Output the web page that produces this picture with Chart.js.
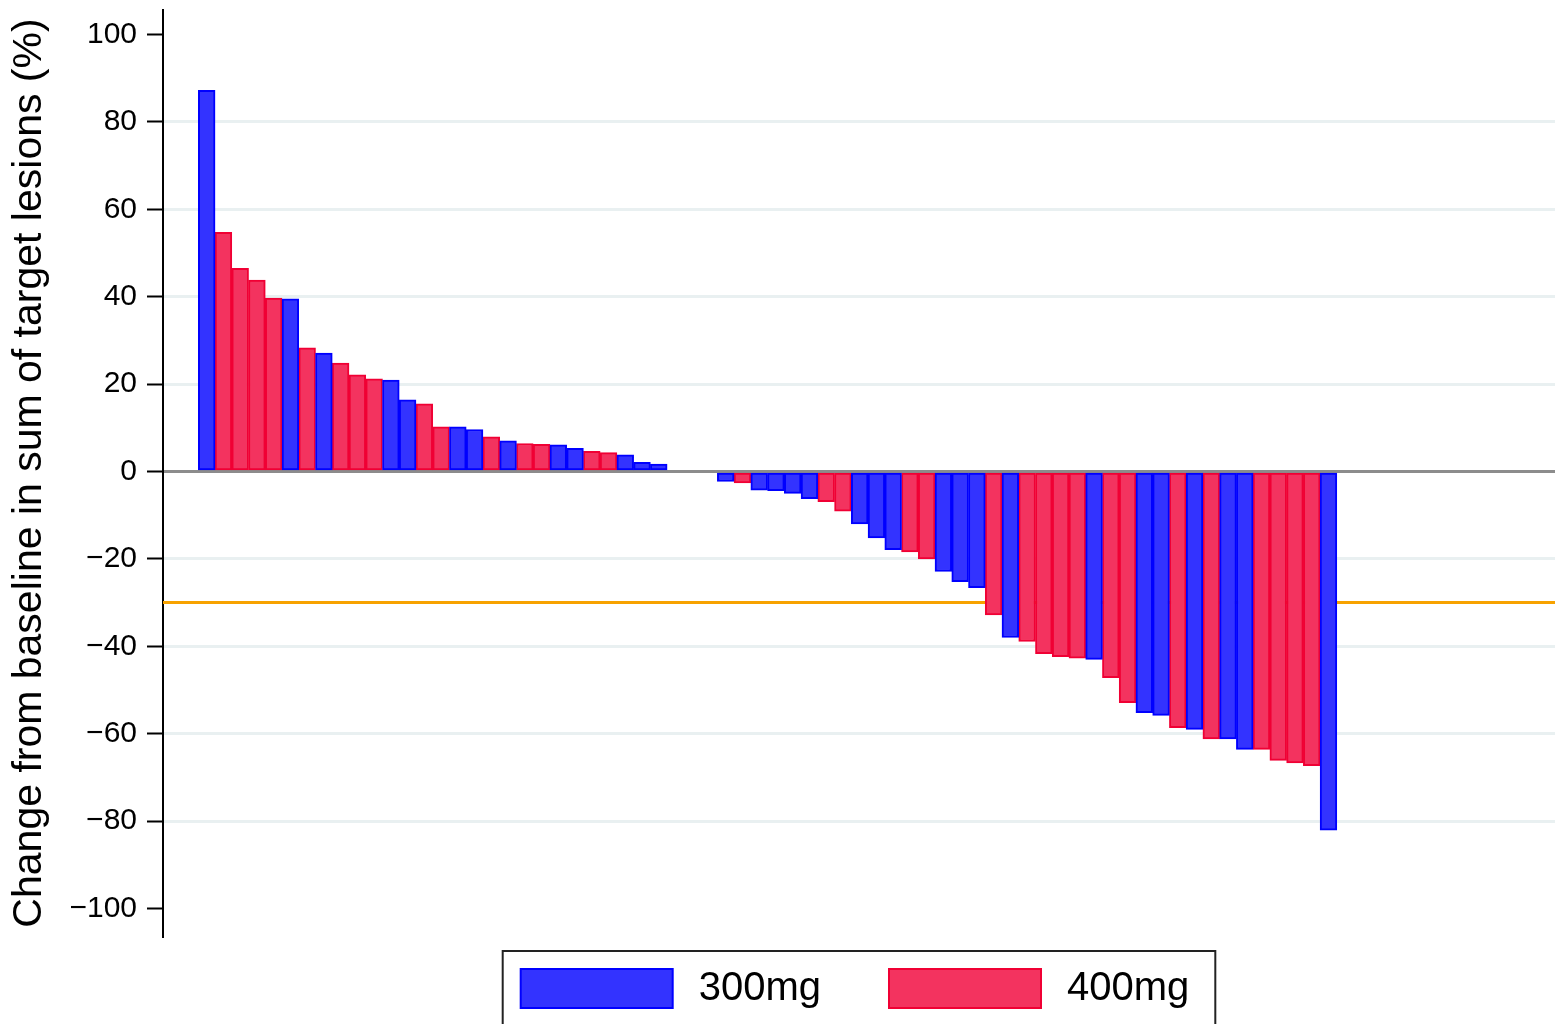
<!DOCTYPE html>
<html>
<head>
<meta charset="utf-8">
<title>Waterfall - change in target lesions</title>
<script src="https://cdn.jsdelivr.net/npm/chart.js@4.4.1/dist/chart.umd.min.js"></script>
<style>
  html, body { margin: 0; padding: 0; background: #fff; }
  #wrap { width: 1567px; height: 1024px; }
</style>
</head>
<body>
<div id="wrap"><canvas id="waterfall"></canvas></div>
<script>
// best % change per patient, already sorted (3 patients without a value)
var change = [
  87.2, 54.7, 46.5, 43.8, 39.7, 39.5, 28.3, 27.1, 24.8, 22.1,
  21.2, 20.9, 16.4, 15.5, 10.2, 10.2, 9.6, 7.9, 7.0, 6.4,
  6.2, 6.1, 5.3, 4.6, 4.3, 3.8, 2.1, 1.7, null, null,
  null, -2.3, -2.6, -4.3, -4.4, -5.0, -6.2, -6.9, -9.1, -12.0,
  -15.2, -17.9, -18.4, -20.0, -22.9, -25.2, -26.6, -32.8, -38.0, -38.9,
  -41.7, -42.4, -42.7, -43.0, -47.2, -52.9, -55.2, -55.8, -58.6, -59.0,
  -61.2, -61.2, -63.6, -63.6, -66.1, -66.7, -67.3, -82.1
];
var dose = [
  300, 400, 400, 400, 400, 300, 400, 300, 400, 400,
  400, 300, 300, 400, 400, 300, 300, 400, 300, 400,
  400, 300, 300, 400, 400, 300, 300, 300, null, null,
  null, 300, 400, 300, 300, 300, 300, 400, 400, 300,
  300, 300, 400, 400, 300, 300, 300, 400, 300, 400,
  400, 400, 400, 300, 400, 400, 300, 300, 400, 300,
  400, 300, 300, 400, 400, 400, 400, 300
];
var doseGroups = [300, 400];
var yTicks = [-100, -80, -60, -40, -20, 0, 20, 40, 60, 80, 100];
var partialResponse = -30;

var groupStyle = {
  300: { fill: '#3333ff', line: '#0000ff' },
  400: { fill: '#f3335f', line: '#f00034' }
};

var datasets = doseGroups.map(function (g) {
  var pts = [];
  change.forEach(function (v, i) {
    if (v !== null && dose[i] === g) pts.push({ x: i + 1, y: v });
  });
  return {
    label: g + 'mg',
    data: pts,
    backgroundColor: groupStyle[g].fill,
    borderColor: groupStyle[g].line,
    borderWidth: 2,
    borderSkipped: false,
    grouped: false,
    barPercentage: 1,
    categoryPercentage: 1
  };
});

// orange -30% line, under the bars
var refLine = {
  id: 'refLine',
  beforeDatasetsDraw: function (chart) {
    var ctx = chart.ctx, a = chart.chartArea;
    var y = chart.scales.y.getPixelForValue(partialResponse);
    ctx.save();
    ctx.strokeStyle = '#f7a200';
    ctx.lineWidth = 3;
    ctx.beginPath();
    ctx.moveTo(a.left, y);
    ctx.lineTo(a.right, y);
    ctx.stroke();
    ctx.restore();
  }
};

// boxed legend under the plot
var boxLegend = {
  id: 'boxLegend',
  afterDraw: function (chart) {
    var ctx = chart.ctx, a = chart.chartArea;
    var boxW = 154, boxH = 41, gap = 25, spacing = 67;
    ctx.save();
    ctx.font = '40px "Liberation Sans", Arial, sans-serif';
    var items = chart.data.datasets.map(function (ds) {
      return { ds: ds, w: boxW + gap + ctx.measureText(ds.label).width };
    });
    var total = spacing * (items.length - 1);
    items.forEach(function (it) { total += it.w; });
    var frameW = total + 17 + 26;
    var left = (a.left + a.right) / 2 - frameW / 2;
    var top = a.bottom + 15;
    ctx.strokeStyle = '#222';
    ctx.lineWidth = 2;
    ctx.strokeRect(left, top, frameW, 120);

    var x = left + 17, by = top + 17;
    items.forEach(function (it) {
      ctx.fillStyle = it.ds.borderColor;
      ctx.fillRect(x, by, boxW, boxH);
      ctx.fillStyle = it.ds.backgroundColor;
      ctx.fillRect(x + 2, by + 2, boxW - 4, boxH - 4);
      ctx.fillStyle = '#000';
      ctx.textBaseline = 'middle';
      ctx.textAlign = 'left';
      ctx.fillText(it.ds.label, x + boxW + gap, by + boxH / 2);
      x += it.w + spacing;
    });
    ctx.restore();
  }
};

new Chart(document.getElementById('waterfall').getContext('2d'), {
  type: 'bar',
  data: { datasets: datasets },
  plugins: [refLine, boxLegend],
  options: {
    responsive: true,
    maintainAspectRatio: false,
    animation: false,
    devicePixelRatio: 1,
    layout: { padding: { top: 10, right: 12, bottom: 88, left: 0 } },
    plugins: {
      legend: { display: false },
      tooltip: { enabled: false }
    },
    scales: {
      x: {
        type: 'linear',
        display: false,
        offset: false,
        grid: { offset: false },
        min: -1.61,
        max: 81.53
      },
      y: {
        min: -106.3,
        max: 105.6,
        afterFit: function (s) {
          s.width = 163;
          s.paddingTop = 0;
          s.paddingBottom = 0;
        },
        afterBuildTicks: function (s) {
          s.ticks = yTicks.map(function (v) { return { value: v }; });
        },
        ticks: {
          color: '#000',
          padding: 10,
          font: { family: '"Liberation Sans", Arial, sans-serif', size: 30 },
          callback: function (v) { return String(v).replace('-', '\u2212'); }
        },
        grid: {
          color: function (c) {
            var v = c.tick ? c.tick.value : null;
            if (v === 0) return '#8c8c8c';
            if (v === 100 || v === -100) return 'rgba(0,0,0,0)';
            return '#e9f0f1';
          },
          lineWidth: 3,
          tickColor: '#000',
          tickWidth: 2,
          tickLength: 16
        },
        border: { color: '#000', width: 2 },
        title: {
          display: true,
          text: 'Change from baseline in sum of target lesions (%)',
          color: '#000',
          font: { family: '"Liberation Sans", Arial, sans-serif', size: 41 },
          padding: { top: 5, bottom: 0 }
        }
      }
    }
  }
});
</script>
</body>
</html>
